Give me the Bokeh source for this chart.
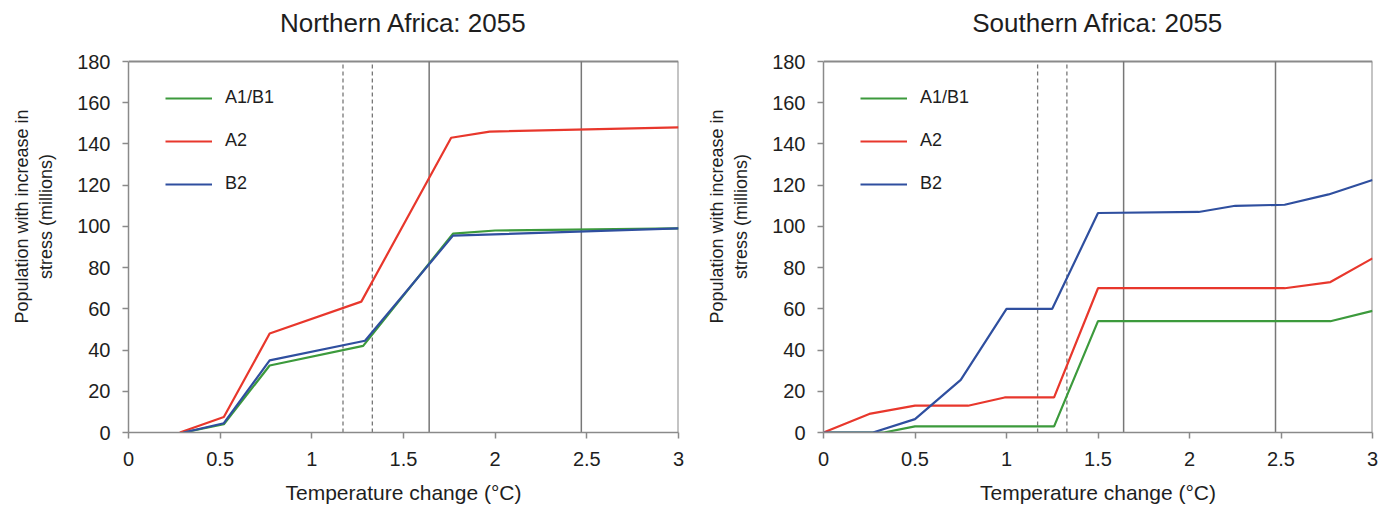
from bokeh.plotting import figure
from bokeh.layouts import row
from bokeh.models import Span, Legend, LegendItem, FixedTicker, Range1d, Label
from bokeh.embed import file_html
from bokeh.resources import INLINE

FONT = "Liberation Sans"

# ---- data ----
x_ticks = [0, 0.5, 1, 1.5, 2, 2.5, 3]
x_tick_labels = ["0", "0.5", "1", "1.5", "2", "2.5", "3"]
y_ticks = [0, 20, 40, 60, 80, 100, 120, 140, 160, 180]
dashed_x = [1.17, 1.33]
solid_x = [1.64, 2.47]

# Northern Africa
na_x_a1b1 = [0.30, 0.52, 0.77, 1.28, 1.77, 2.0, 3.0]
na_a1b1 = [0, 4, 32.5, 42, 96.5, 98, 99]
na_x_a2 = [0.28, 0.52, 0.77, 1.27, 1.76, 1.97, 3.0]
na_a2 = [0, 7.5, 48, 63.5, 143, 146, 148]
na_x_b2 = [0.30, 0.52, 0.77, 1.29, 1.77, 3.0]
na_b2 = [0, 4.5, 35, 44.5, 95.5, 99]

# Southern Africa
sa_x_a1b1 = [0, 0.33, 0.5, 1.26, 1.5, 2.77, 3.0]
sa_a1b1 = [0, 0, 3, 3, 54, 54, 59]
sa_x_a2 = [0, 0.25, 0.5, 0.79, 0.99, 1.26, 1.5, 2.52, 2.77, 3.0]
sa_a2 = [0, 9, 13, 13, 17, 17, 70, 70, 73, 84.5]
sa_x_b2 = [0, 0.27, 0.5, 0.75, 1.0, 1.25, 1.5, 2.05, 2.25, 2.52, 2.76, 3.0]
sa_b2 = [0, 0, 6.5, 25.5, 60, 60, 106.5, 107, 110, 110.5, 115.5, 122.5]

labels = ["A1/B1", "A2", "B2"]
colors = ["#3c9a3c", "#e8372c", "#2f4f9f"]

X_MIN, X_MAX = 0, 3
Y_MIN, Y_MAX = 0, 180

AXIS_GRAY = "#8a8a8a"
TEXT = "#1e1e1e"

H = 508
BOTTOM = 76
TOP_GAP = 61  # pixels between figure top and the 180 line
FRAME_H = H - BOTTOM
Y_TOP = Y_MAX * FRAME_H / (FRAME_H - TOP_GAP)


def make_panel(title, series, width, left, right):
    p = figure(width=width, height=H, output_backend="svg", toolbar_location=None,
               x_range=Range1d(X_MIN, X_MAX), y_range=Range1d(Y_MIN, Y_TOP),
               min_border_left=left, min_border_right=right,
               min_border_top=0, min_border_bottom=BOTTOM)
    p.title.visible = False
    p.outline_line_color = None
    p.xgrid.visible = False
    p.ygrid.visible = False

    # title
    p.add_layout(Label(x=(X_MIN + X_MAX) / 2, y=Y_MAX, y_offset=39, text=title,
                       text_align="center", text_baseline="middle",
                       text_font=FONT, text_font_size="26px",
                       text_color=TEXT))

    p.xaxis.ticker = FixedTicker(ticks=x_ticks)
    p.xaxis.major_label_overrides = {t: l for t, l in zip(x_ticks, x_tick_labels)}
    p.yaxis.ticker = FixedTicker(ticks=y_ticks)
    p.yaxis.bounds = (Y_MIN, Y_MAX)
    for ax in (p.xaxis, p.yaxis):
        ax.axis_line_color = AXIS_GRAY
        ax.axis_line_width = 1.5
        ax.major_tick_line_color = AXIS_GRAY
        ax.major_tick_line_width = 1.5
        ax.major_tick_in = 0
        ax.major_tick_out = 6
        ax.minor_tick_line_color = None
        ax.major_label_text_font = FONT
        ax.major_label_text_font_size = "20px"
        ax.major_label_text_color = TEXT
        ax.axis_label_text_font = FONT
        ax.axis_label_text_font_style = "normal"
        ax.axis_label_text_color = TEXT
    p.xaxis.axis_label_text_font_size = "21px"
    p.yaxis.axis_label_text_font_size = "18px"
    p.xaxis.major_label_standoff = 13
    p.yaxis.major_label_standoff = 12
    p.xaxis.axis_label = "Temperature change (°C)"
    p.xaxis.axis_label_standoff = 12
    p.yaxis.axis_label = "Population with increase in\nstress (millions)"
    p.yaxis.axis_label_standoff = 18

    # frame top and right borders
    p.segment(x0=[X_MIN, X_MAX], y0=[Y_MAX, Y_MIN], x1=[X_MAX, X_MAX], y1=[Y_MAX, Y_MAX],
              line_color=AXIS_GRAY, line_width=2)

    # reference vertical lines
    p.segment(x0=dashed_x, y0=[Y_MIN] * len(dashed_x), x1=dashed_x, y1=[Y_MAX] * len(dashed_x),
              line_color="#777777", line_width=1.3, line_dash="4 3")
    p.segment(x0=solid_x, y0=[Y_MIN] * len(solid_x), x1=solid_x, y1=[Y_MAX] * len(solid_x),
              line_color="#777777", line_width=1.5)

    items = []
    for (xs, ys), lab, col in zip(series, labels, colors):
        r = p.line(xs, ys, line_color=col, line_width=2.2)
        items.append(LegendItem(label=lab, renderers=[r]))

    legend = Legend(items=items, location=(37, 238), orientation="vertical",
                    glyph_width=47, glyph_height=20, label_height=20,
                    spacing=22, padding=0, margin=0, label_standoff=13,
                    label_text_font=FONT, label_text_font_size="18px",
                    label_text_color=TEXT, border_line_alpha=0,
                    background_fill_alpha=0)
    p.add_layout(legend, "center")
    return p


left = make_panel("Northern Africa: 2055",
                  [(na_x_a1b1, na_a1b1), (na_x_a2, na_a2), (na_x_b2, na_b2)],
                  width=697, left=128, right=19)
right = make_panel("Southern Africa: 2055",
                   [(sa_x_a1b1, sa_a1b1), (sa_x_a2, sa_a2), (sa_x_b2, sa_b2)],
                   width=698, left=126, right=23)

layout = row(left, right)
open("out.html", "w").write(file_html(layout, INLINE))
